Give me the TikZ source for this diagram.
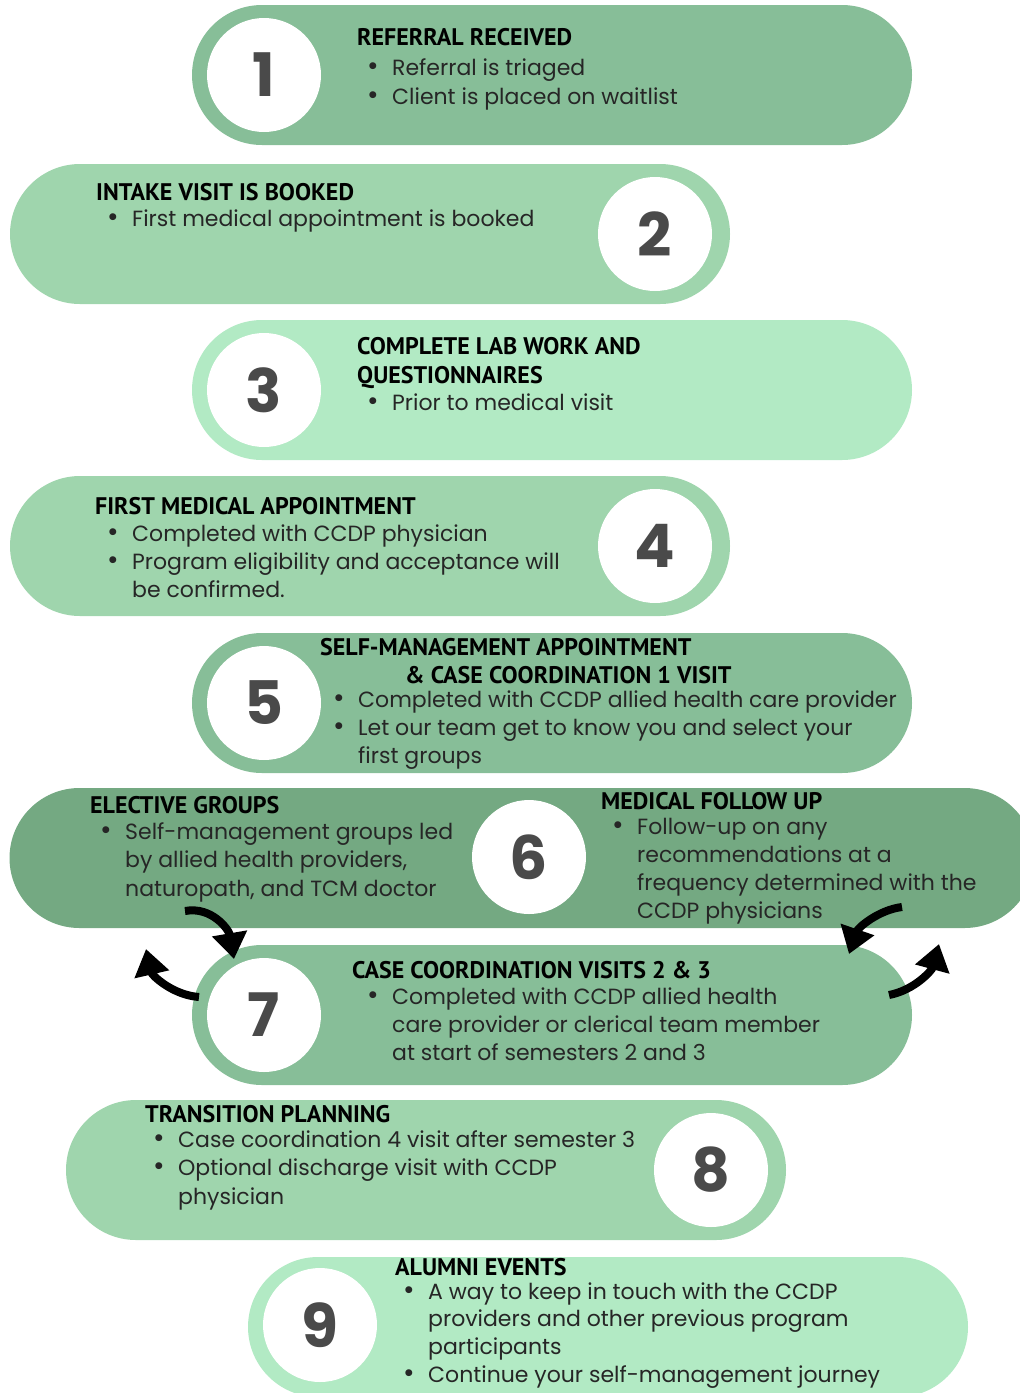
\documentclass[tikz,border=0pt]{standalone}
\usepackage{fontspec}
\setmainfont{Poppins}
\newfontfamily\headfam{PT Sans}
\usetikzlibrary{shapes.misc,arrows.meta}

\definecolor{pilldark}{HTML}{74A982}
\definecolor{pillmid}{HTML}{87BE98}
\definecolor{pilllight}{HTML}{9FD5AD}
\definecolor{pillpale}{HTML}{B2EAC4}
\definecolor{numgray}{HTML}{4A4A4A}
\definecolor{inkdark}{HTML}{262626}

\newcommand{\itm}{\makebox[25pt][l]{\raisebox{-0.5pt}{\fontsize{28}{28}\selectfont\textbullet}}}

\begin{document}
\begin{tikzpicture}[x=1pt,y=-1pt,
    pill/.style={rounded rectangle, minimum height=140pt, inner sep=0pt, draw=none},
    numdisc/.style={circle, fill=white, minimum size=114pt, inner sep=0pt, text=numgray,
      font=\bfseries\fontsize{60}{60}\selectfont},
    headtxt/.style={anchor=west, inner sep=0pt, text=black, text height=17pt, text depth=0pt,
      font=\headfam\bfseries\fontsize{24}{28}\selectfont},
    itemtxt/.style={anchor=west, inner sep=0pt, text=inkdark, text height=15pt, text depth=5pt,
      font=\fontsize{22}{26}\selectfont},
    loop/.style={line width=8pt, -{Triangle[width=34pt,length=26pt]}, black}]
  \clip (0,0) rectangle (1020,1393);

  % the nine steps
  \node[pill, fill=pillmid, minimum width=720pt] (p1) at (552,75) {};
  \node[pill, fill=pilllight, minimum width=720pt] (p2) at (370,234) {};
  \node[pill, fill=pillpale, minimum width=720pt] (p3) at (552,390) {};
  \node[pill, fill=pilllight, minimum width=720pt] (p4) at (370,546) {};
  \node[pill, fill=pillmid, minimum width=720pt] (p5) at (552,703) {};
  \node[pill, fill=pilldark, minimum width=1025pt] (p6) at (522,858) {};
  \node[pill, fill=pillmid, minimum width=720pt] (p7) at (552,1015) {};
  \node[pill, fill=pilllight, minimum width=720pt] (p8) at (426,1170) {};
  \node[pill, fill=pillpale, minimum width=720pt] (p9) at (608,1327) {};

  \node[numdisc] (n1) at (264,75) {1};
  \node[numdisc] (n2) at (655,234) {2};
  \node[numdisc] (n3) at (264,390) {3};
  \node[numdisc] (n4) at (655,546) {4};
  \node[numdisc] (n5) at (264,703) {5};
  \node[numdisc] (n6) at (529,857) {6};
  \node[numdisc] (n7) at (264,1015) {7};
  \node[numdisc] (n8) at (711,1170) {8};
  \node[numdisc] (n9) at (320,1325) {9};

  % step 1
  \node[headtxt] (h1) at (357,37) {REFERRAL RECEIVED};
  \node[itemtxt] (t1a) at (367,70) {\itm Referral is triaged};
  \node[itemtxt] (t1b) at (367,99) {\itm Client is placed on waitlist};

  % step 2
  \node[headtxt] (h2) at (96,192) {INTAKE VISIT IS BOOKED};
  \node[itemtxt] (t2a) at (107,221) {\itm First medical appointment is booked};

  % step 3
  \node[headtxt] (h3a) at (357,346) {COMPLETE LAB WORK AND};
  \node[headtxt] (h3b) at (357,375) {QUESTIONNAIRES};
  \node[itemtxt] (t3a) at (367,405) {\itm Prior to medical visit};

  % step 4
  \node[headtxt] (h4) at (95,506) {FIRST MEDICAL APPOINTMENT};
  \node[itemtxt] (t4a) at (107,536) {\itm Completed with CCDP physician};
  \node[itemtxt] (t4b) at (107,564) {\itm Program eligibility and acceptance will};
  \node[itemtxt] (t4c) at (132,592) {be confirmed.};

  % step 5
  \node[headtxt] (h5a) at (320,647) {SELF-MANAGEMENT APPOINTMENT};
  \node[headtxt] (h5b) at (405,675) {\& CASE COORDINATION 1 VISIT};
  \node[itemtxt] (t5a) at (333,702) {\itm Completed with CCDP allied health care provider};
  \node[itemtxt] (t5b) at (333,730) {\itm Let our team get to know you and select your};
  \node[itemtxt] (t5c) at (358,758) {first groups};

  % step 6
  \node[headtxt] (h6a) at (90,805) {ELECTIVE GROUPS};
  \node[itemtxt] (t6a) at (100,834) {\itm Self-management groups led};
  \node[itemtxt] (t6b) at (125,862) {by allied health providers,};
  \node[itemtxt] (t6c) at (125,891) {naturopath, and TCM doctor};
  \node[headtxt] (h6b) at (601,801) {MEDICAL FOLLOW UP};
  \node[itemtxt] (t6d) at (612,829) {\itm Follow-up on any};
  \node[itemtxt] (t6e) at (637,857) {recommendations at a};
  \node[itemtxt] (t6f) at (637,885) {frequency determined with the};
  \node[itemtxt] (t6g) at (637,913) {CCDP physicians};

  % step 7
  \node[headtxt] (h7) at (352,970) {CASE COORDINATION VISITS 2 \& 3};
  \node[itemtxt] (t7a) at (367,999) {\itm Completed with CCDP allied health};
  \node[itemtxt] (t7b) at (392,1027) {care provider or clerical team member};
  \node[itemtxt] (t7c) at (392,1055) {at start of semesters 2 and 3};

  % step 8
  \node[headtxt] (h8) at (145,1114) {TRANSITION PLANNING};
  \node[itemtxt] (t8a) at (153,1142) {\itm Case coordination 4 visit after semester 3};
  \node[itemtxt] (t8b) at (153,1170) {\itm Optional discharge visit with CCDP};
  \node[itemtxt] (t8c) at (178,1199) {physician};

  % step 9
  \node[headtxt] (h9) at (395,1267) {ALUMNI EVENTS};
  \node[itemtxt] (t9a) at (403,1294) {\itm A way to keep in touch with the CCDP};
  \node[itemtxt] (t9b) at (428,1321) {providers and other previous program};
  \node[itemtxt] (t9c) at (428,1349) {participants};
  \node[itemtxt] (t9d) at (403,1377) {\itm Continue your self-management journey};

  % loop arrows between 6 and 7
  \coordinate (la1) at (185,911);
  \coordinate (la2) at (234,959);
  \coordinate (lb1) at (199,997);
  \coordinate (lb2) at (146,949);
  \coordinate (lc1) at (902,907);
  \coordinate (lc2) at (849,954);
  \coordinate (ld1) at (889,995);
  \coordinate (ld2) at (939,944);
  \draw[loop] (la1) .. controls (212,906) and (229,930) .. (la2);
  \draw[loop] (lb1) .. controls (172,995) and (152,975) .. (lb2);
  \draw[loop] (lc1) .. controls (878,910) and (858,928) .. (lc2);
  \draw[loop] (ld1) .. controls (915,990) and (932,970) .. (ld2);
\end{tikzpicture}
\end{document}
